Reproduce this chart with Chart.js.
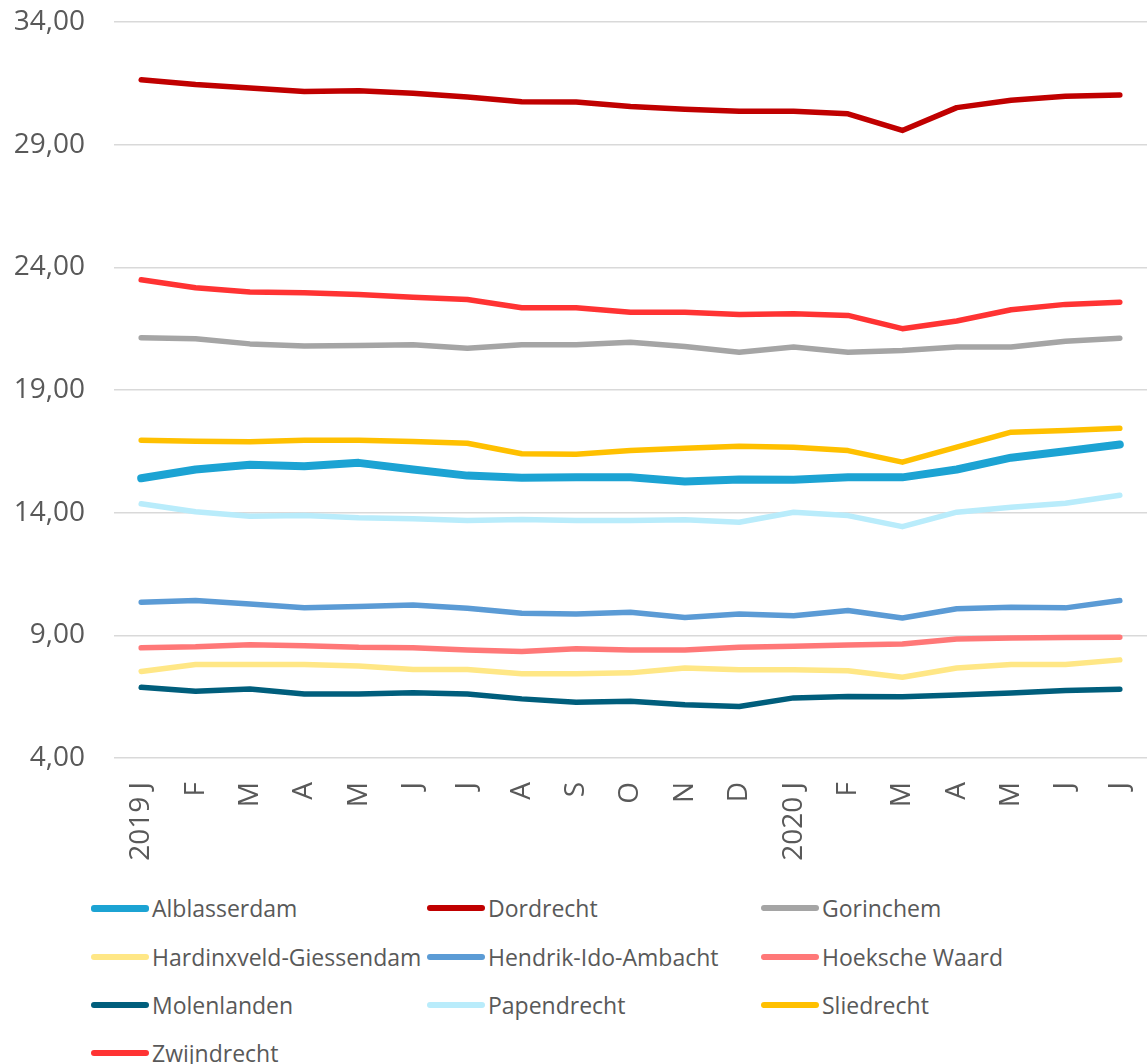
<!DOCTYPE html>
<html>
<head>
<meta charset="utf-8">
<script src="https://cdn.jsdelivr.net/npm/chart.js@4.4.1/dist/chart.umd.min.js"></script>
<style>
  html, body { margin: 0; padding: 0; background: #fff; }
  body { width: 1148px; height: 1064px; overflow: hidden; position: relative; font-family: 'Open Sans', sans-serif; }
  #wrap { position: absolute; left: 0; top: 0; width: 1148px; height: 880px; }
  .lg { position: absolute; display: flex; align-items: center; color: #595959; font-size: 23px; white-space: nowrap; }
  .lg i { display: inline-block; width: 58px; height: 6px; border-radius: 3px; margin-right: 3px; }
</style>
</head>
<body>
<div id="wrap"><canvas id="c" role="img" aria-label="Monthly values per municipality"></canvas></div>
<div id="legend"></div>
<script>
const months = ['2019 J', 'F', 'M', 'A', 'M', 'J', 'J', 'A', 'S', 'O', 'N', 'D', '2020 J', 'F', 'M', 'A', 'M', 'J', 'J'];
const yTicks = [4, 9, 14, 19, 24, 29, 34];

const alblasserdam = [15.40, 15.76, 15.95, 15.89, 16.03, 15.76, 15.51, 15.42, 15.44, 15.44, 15.27, 15.35, 15.34, 15.44, 15.44, 15.76, 16.24, 16.50, 16.78];
const dordrecht = [31.65, 31.45, 31.31, 31.17, 31.20, 31.10, 30.94, 30.75, 30.74, 30.56, 30.44, 30.36, 30.36, 30.26, 29.58, 30.51, 30.81, 30.97, 31.02];
const gorinchem = [21.13, 21.09, 20.88, 20.79, 20.81, 20.84, 20.70, 20.84, 20.84, 20.95, 20.77, 20.54, 20.75, 20.54, 20.61, 20.75, 20.75, 20.99, 21.11];
const hardinxveld = [7.53, 7.81, 7.81, 7.81, 7.75, 7.61, 7.61, 7.43, 7.43, 7.47, 7.67, 7.60, 7.60, 7.56, 7.29, 7.67, 7.81, 7.81, 8.00];
const hendrikIdo = [10.35, 10.42, 10.28, 10.12, 10.18, 10.24, 10.10, 9.90, 9.87, 9.94, 9.73, 9.87, 9.80, 10.01, 9.71, 10.08, 10.14, 10.12, 10.42];
const hoekscheWaard = [8.49, 8.53, 8.62, 8.58, 8.51, 8.49, 8.40, 8.34, 8.45, 8.40, 8.40, 8.51, 8.55, 8.61, 8.65, 8.85, 8.89, 8.91, 8.92];
const molenlanden = [6.88, 6.72, 6.81, 6.61, 6.61, 6.66, 6.61, 6.41, 6.27, 6.31, 6.17, 6.10, 6.45, 6.51, 6.50, 6.57, 6.65, 6.75, 6.80];
const papendrecht = [14.36, 14.04, 13.85, 13.88, 13.79, 13.75, 13.68, 13.72, 13.68, 13.68, 13.71, 13.61, 14.02, 13.88, 13.43, 14.02, 14.22, 14.38, 14.71];
const sliedrecht = [16.95, 16.91, 16.89, 16.95, 16.95, 16.90, 16.83, 16.40, 16.38, 16.53, 16.63, 16.71, 16.67, 16.53, 16.06, 16.67, 17.28, 17.35, 17.44];
const zwijndrecht = [23.49, 23.17, 22.99, 22.96, 22.89, 22.78, 22.69, 22.35, 22.35, 22.17, 22.17, 22.08, 22.11, 22.04, 21.50, 21.81, 22.27, 22.49, 22.58];

const series = [
  { label: 'Alblasserdam', data: alblasserdam, color: '#1ca3d3', width: 8 },
  { label: 'Dordrecht', data: dordrecht, color: '#c00000', width: 5.5 },
  { label: 'Gorinchem', data: gorinchem, color: '#a5a5a5', width: 5.5 },
  { label: 'Hardinxveld-Giessendam', data: hardinxveld, color: '#ffe786', width: 5.5 },
  { label: 'Hendrik-Ido-Ambacht', data: hendrikIdo, color: '#5b9bd5', width: 5.5 },
  { label: 'Hoeksche Waard', data: hoekscheWaard, color: '#ff7878', width: 5.5 },
  { label: 'Molenlanden', data: molenlanden, color: '#005e7c', width: 5.5 },
  { label: 'Papendrecht', data: papendrecht, color: '#b9ecfb', width: 5.5 },
  { label: 'Sliedrecht', data: sliedrecht, color: '#ffc000', width: 5.5 },
  { label: 'Zwijndrecht', data: zwijndrecht, color: '#ff3333', width: 5.5 },
];

Chart.defaults.font.family = "'Open Sans', sans-serif";
Chart.defaults.color = '#595959';

new Chart(document.getElementById('c'), {
  type: 'line',
  data: {
    labels: months,
    datasets: series.map((s) => ({
      label: s.label,
      data: s.data,
      borderColor: s.color,
      backgroundColor: s.color,
      borderWidth: s.width,
      borderCapStyle: 'round',
      borderJoinStyle: 'round',
      pointRadius: 0,
      tension: 0,
    })),
  },
  options: {
    responsive: true,
    maintainAspectRatio: false,
    animation: false,
    layout: { padding: { top: 22, right: 1, left: 0, bottom: 0 } },
    plugins: { legend: { display: false }, tooltip: { enabled: false } },
    scales: {
      x: {
        offset: true,
        grid: { display: false },
        border: { display: false },
        ticks: {
          autoSkip: false,
          minRotation: 90,
          maxRotation: 90,
          padding: 16,
          font: { size: 28 },
          color: '#595959',
        },
        afterFit(scale) {
          scale.height = 122;
          scale.paddingLeft = 0;
          scale.paddingRight = 0;
        },
      },
      y: {
        min: 4,
        max: 34,
        afterBuildTicks(scale) { scale.ticks = yTicks.map((v) => ({ value: v })); },
        grid: { color: '#d9d9d9', lineWidth: 1.5, drawTicks: false },
        border: { display: false },
        ticks: {
          padding: 29,
          font: { size: 28 },
          color: '#595959',
          callback: (v) => Number(v).toFixed(2).replace('.', ','),
        },
        afterFit(scale) {
          scale.width = 114;
          scale.paddingTop = 0;
          scale.paddingBottom = 0;
        },
      },
    },
  },
});

// legend laid out as a 3-column grid like the original
const cols = [91, 427, 761];
const rows = [908, 957, 1005, 1053];
const legend = document.getElementById('legend');
series.forEach((s, i) => {
  const el = document.createElement('div');
  el.className = 'lg';
  el.style.left = cols[i % 3] + 'px';
  el.style.top = (rows[Math.floor(i / 3)] - 16) + 'px';
  el.style.height = '32px';
  const sw = document.createElement('i');
  sw.style.background = s.color;
  if (s.width > 6) sw.style.height = '7px';
  el.appendChild(sw);
  el.appendChild(document.createTextNode(s.label));
  legend.appendChild(el);
});
</script>
</body>
</html>
